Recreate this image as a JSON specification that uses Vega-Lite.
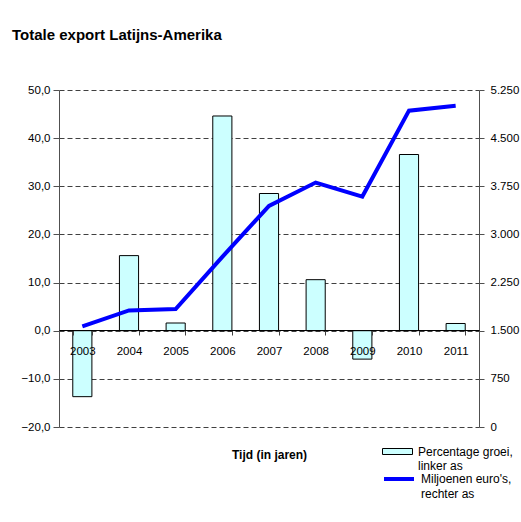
{
  "$schema": "https://vega.github.io/schema/vega-lite/v6.json",
  "width": 420,
  "height": 337,
  "autosize": {"type": "none"},
  "padding": {"left": 59, "top": 90, "right": 42, "bottom": 95},
  "background": "white",
  "config": {
    "locale": {"number": {"decimal": ",", "thousands": ".", "grouping": [3], "currency": ["", " €"]}},
    "font": "Liberation Sans",
    "view": {"stroke": null},
    "axis": {"labelColor": "black", "labelFont": "Liberation Sans", "titleFont": "Liberation Sans", "titleColor": "black"},
    "legend": {"labelFont": "Liberation Sans", "labelColor": "black"}
  },
  "title": {
    "text": "Totale export Latijns-Amerika",
    "anchor": "start",
    "frame": "group",
    "dx": -47,
    "fontSize": 15,
    "fontWeight": "bold",
    "font": "Liberation Sans",
    "color": "black",
    "baseline": "alphabetic",
    "offset": 29
  },
  "data": {
    "values": [
      {"jaar": "2003", "groei": -13.7, "miljoenen": 1567},
      {"jaar": "2004", "groei": 15.6, "miljoenen": 1816},
      {"jaar": "2005", "groei": 1.6, "miljoenen": 1838},
      {"jaar": "2006", "groei": 44.6, "miljoenen": 2650},
      {"jaar": "2007", "groei": 28.5, "miljoenen": 3445},
      {"jaar": "2008", "groei": 10.6, "miljoenen": 3808},
      {"jaar": "2009", "groei": -5.9, "miljoenen": 3590},
      {"jaar": "2010", "groei": 36.6, "miljoenen": 4928},
      {"jaar": "2011", "groei": 1.5, "miljoenen": 5006}
    ]
  },
  "layer": [
    {
      "mark": {"type": "bar", "stroke": "black", "strokeWidth": 1},
      "encoding": {
        "x": {
          "field": "jaar",
          "type": "ordinal",
          "scale": {"paddingInner": 0.59, "paddingOuter": 0.295},
          "axis": {
            "title": "Tijd (in jaren)",
            "orient": "bottom",
            "offset": -97,
            "labelAngle": 0,
            "tickBand": "extent",
            "tickSize": 5,
            "labelPadding": 10,
            "labelFontSize": 11.5,
            "domainColor": "black",
            "domainWidth": 1,
            "tickColor": "#404040",
            "titleFontSize": 12,
            "titleFontWeight": "bold",
            "titleY": 124,
            "titleBaseline": "middle",
            "zindex": 1
          }
        },
        "y": {
          "field": "groei",
          "type": "quantitative",
          "scale": {"domain": [-20, 50], "nice": false},
          "axis": {
            "title": null,
            "values": [-20, -10, 0, 10, 20, 30, 40, 50],
            "format": ".1f",
            "grid": true,
            "gridDash": [5, 3],
            "gridColor": "#404040",
            "gridWidth": 1,
            "domainColor": "#505050",
            "tickColor": "#505050",
            "tickSize": 6,
            "labelPadding": 3,
            "labelFontSize": 11.5
          }
        },
        "fill": {
          "datum": "Percentage groei, linker as",
          "scale": {"range": ["#ccffff"]},
          "legend": {
            "orient": "none",
            "legendX": 323,
            "legendY": 346,
            "padding": 0,
            "title": null,
            "symbolType": "M-1,-0.2H1V0.2H-1Z",
            "symbolSize": 900,
            "symbolStrokeColor": "black",
            "symbolStrokeWidth": 1,
            "labelFontSize": 12,
            "labelOffset": 5,
            "labelExpr": "split(replace(datum.label, ', ', ',|'), '|')",
            "encode": {"labels": {"update": {"lineHeight": {"value": 14}}}}
          }
        }
      }
    },
    {
      "mark": {"type": "line", "strokeWidth": 4},
      "encoding": {
        "x": {"field": "jaar", "type": "ordinal"},
        "y": {
          "field": "miljoenen",
          "type": "quantitative",
          "scale": {"domain": [0, 5250], "nice": false},
          "axis": {
            "orient": "right",
            "title": null,
            "values": [0, 750, 1500, 2250, 3000, 3750, 4500, 5250],
            "format": ",.0f",
            "grid": false,
            "domainColor": "#505050",
            "tickColor": "#505050",
            "tickSize": 5,
            "labelPadding": 6,
            "labelFontSize": 11.5
          }
        },
        "stroke": {
          "datum": "Miljoenen euro's, rechter as",
          "scale": {"range": ["#0000ff"]},
          "legend": {
            "orient": "none",
            "legendX": 323,
            "legendY": 372,
            "padding": 0,
            "title": null,
            "symbolType": "stroke",
            "symbolSize": 900,
            "symbolStrokeWidth": 4,
            "labelFontSize": 12,
            "labelOffset": 5,
            "labelExpr": "split(replace(datum.label, ', ', ',|'), '|')",
            "encode": {"labels": {"update": {"lineHeight": {"value": 15}}}}
          }
        }
      }
    }
  ],
  "resolve": {"scale": {"y": "independent"}}
}
